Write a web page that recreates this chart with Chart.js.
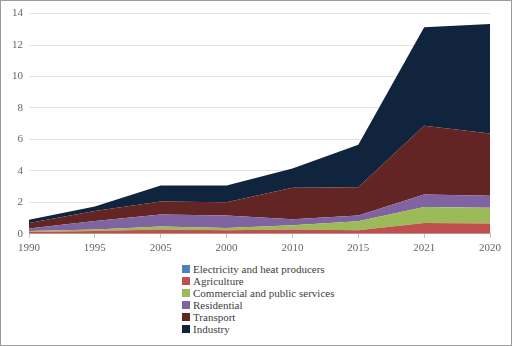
<!DOCTYPE html>
<html>
<head>
<meta charset="utf-8">
<script src="https://cdn.jsdelivr.net/npm/chart.js@4"></script>
<style>
    html, body {
        margin: 0;
        padding: 0;
        background: #ffffff;
    }
    .frame {
        position: relative;
        width: 512px;
        height: 346px;
        box-sizing: border-box;
        border: 1px solid #9a9a9a;
        overflow: hidden;
    }
    .plot {
        position: absolute;
        left: 0;
        top: 0;
        width: 510px;
        height: 260px;
    }
    #legend {
        position: absolute;
        left: 181px;
        top: 262px;
        font-family: "Liberation Serif", serif;
        font-size: 11px;
        line-height: 12px;
        color: #404040;
    }
    #legend .item {
        display: flex;
        align-items: center;
        height: 12px;
    }
    #legend .box {
        width: 8px;
        height: 8px;
        margin-right: 3px;
    }
</style>
</head>
<body>
<div class="frame">
    <div class="plot"><canvas id="chart"></canvas></div>
    <div id="legend"></div>
</div>
<script>
// Categories (kept in the order they appear on the axis)
const years = ["1990", "1995", "2005", "2000", "2010", "2015", "2021", "2020"];

// Series values
const electricity = [0, 0, 0, 0, 0, 0, 0, 0];
const agriculture = [0.11, 0.18, 0.27, 0.22, 0.28, 0.22, 0.68, 0.65];
const commercial = [0.07, 0.09, 0.20, 0.15, 0.26, 0.57, 1.02, 1.01];
const residential = [0.15, 0.54, 0.76, 0.80, 0.38, 0.38, 0.80, 0.76];
const transport = [0.35, 0.64, 0.83, 0.83, 2.00, 1.79, 4.37, 3.96];
const industry = [0.22, 0.29, 1.01, 1.07, 1.23, 2.70, 6.26, 6.96];

// Y axis ticks
const yTicks = [0, 2, 4, 6, 8, 10, 12, 14];

const seriesNames = [
    "Electricity and heat producers",
    "Agriculture",
    "Commercial and public services",
    "Residential",
    "Transport",
    "Industry"
];
const seriesColors = ["#4f81bd", "#c0504d", "#9bbb59", "#8064a2", "#632523", "#10243e"];
const seriesData = [electricity, agriculture, commercial, residential, transport, industry];

const datasets = seriesNames.map((name, i) => ({
    label: name,
    data: seriesData[i],
    backgroundColor: seriesColors[i],
    borderColor: seriesColors[i],
    borderWidth: 0,
    pointRadius: 0,
    tension: 0,
    fill: i === 0 ? "origin" : "-1"
}));

const ctx = document.getElementById("chart").getContext("2d");
const chart = new Chart(ctx, {
    type: "line",
    data: {
        labels: years,
        datasets: datasets
    },
    options: {
        responsive: true,
        maintainAspectRatio: false,
        animation: false,
        layout: {
            padding: { top: 6, right: 21, bottom: 2, left: 10 }
        },
        plugins: {
            legend: { display: false },
            tooltip: { enabled: false }
        },
        scales: {
            x: {
                offset: false,
                grid: {
                    drawOnChartArea: false,
                    drawTicks: true,
                    tickLength: 4,
                    color: "#bfbfbf"
                },
                border: { color: "#bfbfbf" },
                ticks: {
                    color: "#666666",
                    padding: 4,
                    maxRotation: 0,
                    autoSkip: false,
                    font: { family: "Liberation Serif", size: 11 }
                }
            },
            y: {
                stacked: true,
                min: yTicks[0],
                max: yTicks[yTicks.length - 1],
                afterFit: (scale) => { scale.width = 18; },
                afterBuildTicks: (scale) => {
                    scale.ticks = yTicks.map(v => ({ value: v }));
                },
                grid: {
                    color: "#e3e3e3",
                    drawTicks: false
                },
                border: { display: false },
                ticks: {
                    color: "#666666",
                    padding: 6,
                    font: { family: "Liberation Serif", size: 11 }
                }
            }
        }
    }
});

// HTML legend, one entry per line
const legend = document.getElementById("legend");
chart.data.datasets.forEach(ds => {
    const item = document.createElement("div");
    item.className = "item";
    const box = document.createElement("span");
    box.className = "box";
    box.style.background = ds.backgroundColor;
    const text = document.createElement("span");
    text.textContent = ds.label;
    item.appendChild(box);
    item.appendChild(text);
    legend.appendChild(item);
});
</script>
</body>
</html>
